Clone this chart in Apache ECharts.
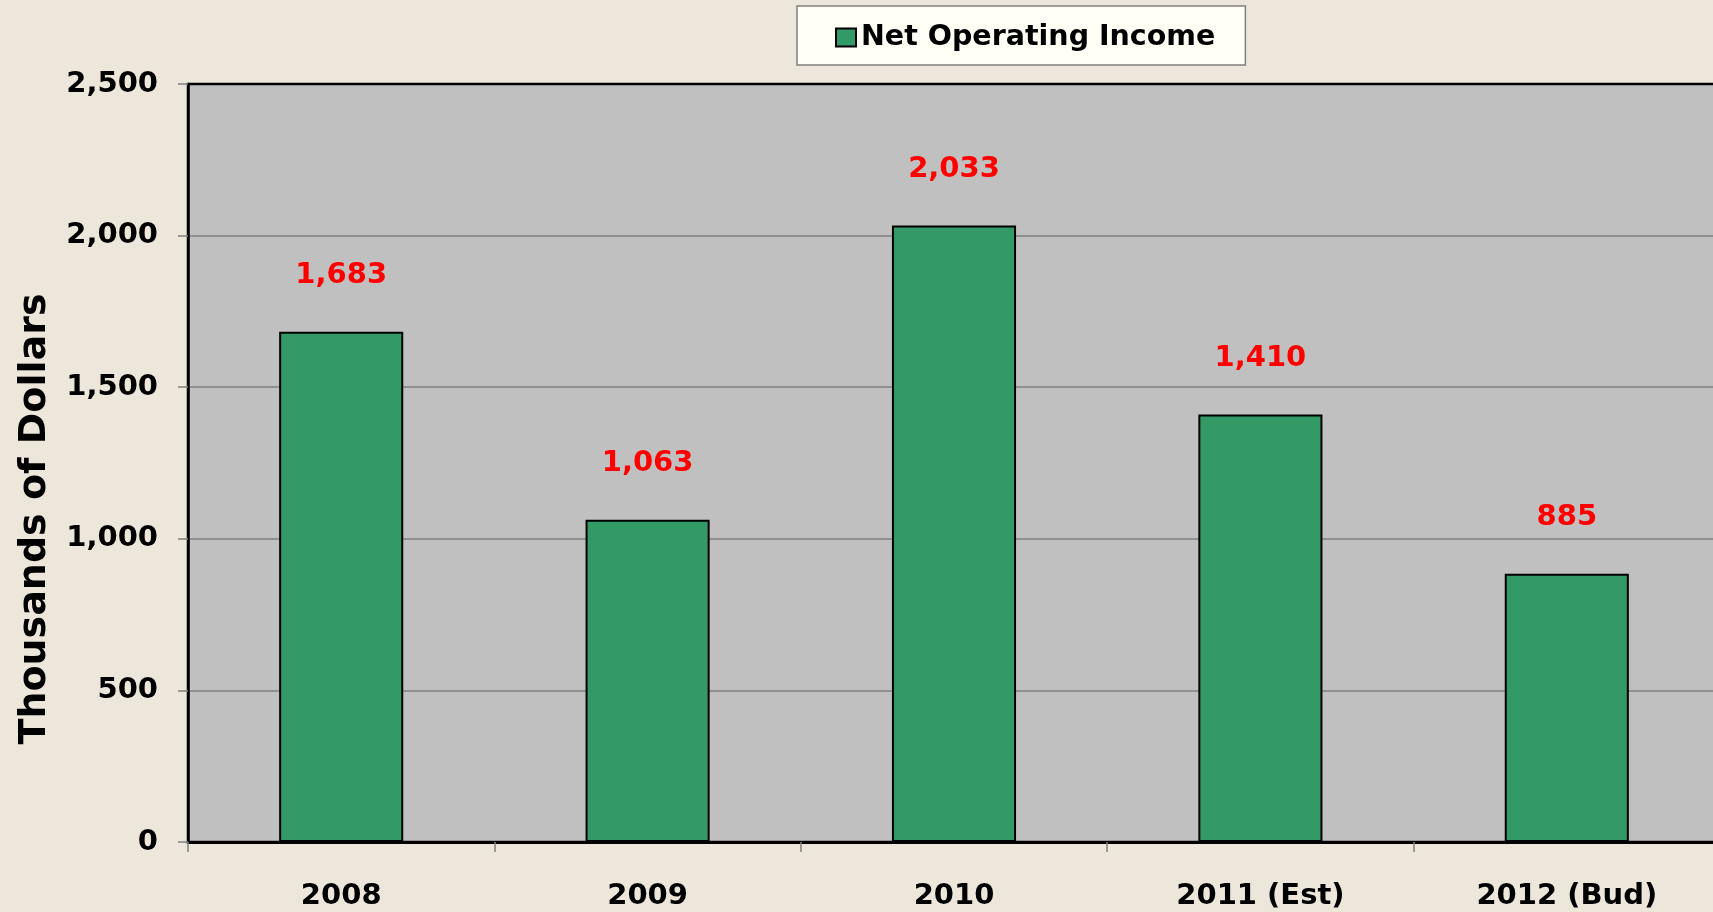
<!DOCTYPE html>
<html>
<head>
<meta charset="utf-8">
<script src="https://cdn.jsdelivr.net/npm/echarts@6/dist/echarts.min.js"></script>
<style>
  html, body { margin: 0; padding: 0; background: #EDE6DA; overflow: hidden; }
  /* plot area runs slightly past the right edge of the window, as in the original */
  #chart { width: 1720px; height: 912px; }
</style>
</head>
<body>
<div id="chart"></div>
<script>
// data
const categories = ['2008', '2009', '2010', '2011 (Est)', '2012 (Bud)']
const netOperatingIncome = [1683, 1063, 2033, 1410, 885]
const seriesName = 'Net Operating Income'
const yAxisTitle = 'Thousands of Dollars'

const FONT = '"DejaVu Sans", Verdana, sans-serif'
const fmt = v => v.toLocaleString('en-US')

const chart = echarts.init(document.getElementById('chart'))
chart.setOption({
  backgroundColor: '#EDE6DA',
  textStyle: { fontFamily: FONT },
  legend: {
    data: [seriesName],
    left: 797,
    top: 6,
    padding: [17, 30, 13, 38],
    backgroundColor: '#FFFFF6',
    borderColor: '#808080',
    borderWidth: 1.5,
    borderRadius: 0,
    itemWidth: 20,
    itemHeight: 18,
    icon: 'rect',
    itemStyle: { color: '#339966', borderColor: '#000', borderWidth: 2 },
    textStyle: { fontFamily: FONT, fontWeight: 'bold', fontSize: 28.5, color: '#000' }
  },
  grid: {
    show: true,
    left: 188,
    top: 84,
    bottom: 70,
    right: 0,
    backgroundColor: '#C0C0C0',
    borderColor: '#000',
    borderWidth: 2.5
  },
  graphic: [
    {
      type: 'text',
      x: 35,
      y: 519,
      rotation: Math.PI / 2,
      style: {
        text: yAxisTitle,
        align: 'center',
        verticalAlign: 'middle',
        font: 'bold 38px ' + FONT,
        fill: '#000'
      }
    }
  ],
  xAxis: {
    type: 'category',
    data: categories,
    axisLine: { lineStyle: { color: '#000', width: 3 } },
    axisTick: { show: true, length: 10, lineStyle: { color: '#808080', width: 1.5 } },
    axisLabel: { margin: 40, color: '#000', fontWeight: 'bold', fontSize: 29, fontFamily: FONT }
  },
  yAxis: {
    type: 'value',
    min: 0,
    max: 2500,
    interval: 500,
    axisLine: { show: true, lineStyle: { color: '#000', width: 2.5 } },
    axisTick: { show: true, length: 10, lineStyle: { color: '#808080', width: 1.5 } },
    splitLine: { showMaxLine: false, lineStyle: { color: '#808080', width: 1.5 } },
    axisLabel: {
      margin: 30,
      padding: [9, 0, 0, 0],
      color: '#000',
      fontWeight: 'bold',
      fontSize: 29,
      fontFamily: FONT,
      formatter: fmt
    }
  },
  series: [
    {
      name: seriesName,
      type: 'bar',
      data: netOperatingIncome,
      barWidth: '40.5%',
      itemStyle: { color: '#339966', borderColor: '#000', borderWidth: 2 },
      label: {
        show: true,
        position: 'top',
        distance: 42,
        color: '#FF0000',
        fontWeight: 'bold',
        fontSize: 29,
        fontFamily: FONT,
        formatter: p => fmt(p.value)
      }
    }
  ]
})
</script>
</body>
</html>
